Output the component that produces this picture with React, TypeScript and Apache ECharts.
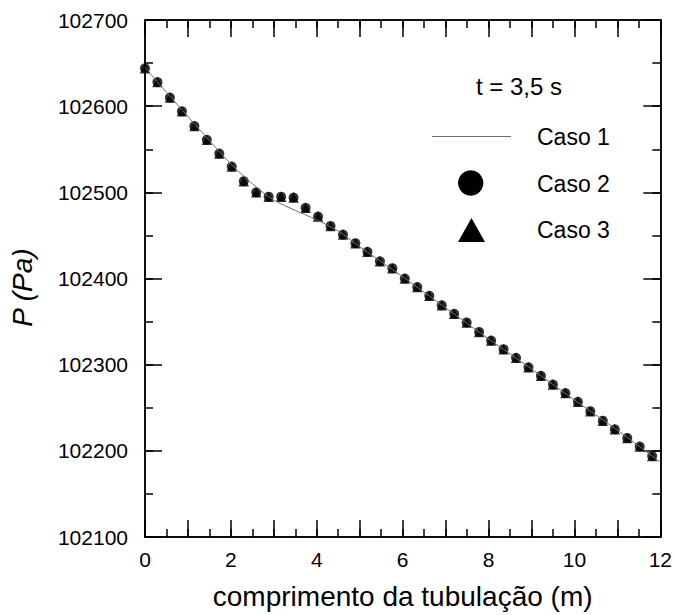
import React, { useEffect, useRef } from "react";
import * as echarts from "echarts";

const xPts = [0, 0.29, 0.58, 0.86, 1.15, 1.44, 1.73, 2.02, 2.3, 2.59, 2.88, 3.17, 3.46, 3.74, 4.03, 4.32, 4.61, 4.9, 5.18, 5.47, 5.76, 6.05, 6.34, 6.62, 6.91, 7.2, 7.49, 7.78, 8.06, 8.35, 8.64, 8.93, 9.22, 9.5, 9.79, 10.08, 10.37, 10.66, 10.94, 11.23, 11.52, 11.81];
const caso2P = [102644, 102628, 102610, 102594, 102577, 102561, 102545, 102530, 102513, 102500, 102495, 102495, 102494, 102482, 102472, 102461, 102451, 102441, 102431, 102420, 102412, 102400, 102390, 102380, 102369, 102359, 102349, 102338, 102328, 102318, 102308, 102297, 102287, 102277, 102267, 102257, 102246, 102235, 102225, 102215, 102205, 102194];
const caso3P = [102644, 102628, 102610, 102594, 102577, 102561, 102545, 102530, 102513, 102500, 102495, 102495, 102494, 102482, 102472, 102461, 102451, 102441, 102431, 102420, 102412, 102400, 102390, 102380, 102369, 102359, 102349, 102338, 102328, 102318, 102308, 102297, 102287, 102277, 102267, 102257, 102246, 102235, 102225, 102215, 102205, 102194];
const caso1X = [0, 0.5, 1, 1.5, 2, 2.5, 3, 3.5, 4, 4.5, 5, 6, 7, 8, 9, 10, 11, 12];
const caso1P = [102645, 102616, 102588, 102560, 102533, 102510, 102491, 102479, 102468, 102455, 102437, 102402, 102366, 102330, 102295, 102259, 102224, 102187];
const seriesNames = ["Caso 1", "Caso 2", "Caso 3"];
const annotation = "t = 3,5 s";
const xTitle = "comprimento da tubulação (m)";
const yTitle = "P (Pa)";

const FONT = "'Liberation Sans', Arial, sans-serif";
const LINE_COLOR = "#6e6e6e";
const TICK_COLOR = "#000";

export default function App() {
  const ref = useRef<HTMLDivElement>(null);
  useEffect(() => {
    document.body.style.margin = "0";
    if (!ref.current) return;
    const chart = echarts.init(ref.current, null, { renderer: "svg" });
    const mkAxis = (kind: "x" | "y", position: string, major: boolean) => ({
      type: "value",
      position,
      min: kind === "x" ? 0 : 102100,
      max: kind === "x" ? 12 : 102700,
      interval: kind === "x" ? (major ? 1 : 0.5) : major ? 100 : 50,
      axisLine: { show: true, onZero: false, lineStyle: { color: "#000", width: 1.5 } },
      axisTick: {
        show: true,
        inside: true,
        length: major ? 17 : 8,
        lineStyle: { color: TICK_COLOR, width: 1.5 },
      },
      axisLabel: { show: false },
      splitLine: { show: false },
    });
    const legendText = (text: string, y: number) => ({
      type: "text",
      x: 537,
      y,
      silent: true,
      style: { text, fontSize: 23, fill: "#000", fontFamily: FONT, align: "left", verticalAlign: "middle" },
    });
    chart.setOption({
      animation: false,
      textStyle: { fontFamily: FONT },
      grid: { left: 145, right: 14, top: 20, bottom: 75 },
      xAxis: [
        {
          ...mkAxis("x", "bottom", true),
          name: xTitle,
          nameLocation: "middle",
          nameGap: 45,
          nameTextStyle: { fontSize: 28, color: "#000", fontFamily: FONT },
          axisLabel: {
            show: true,
            color: "#000",
            fontSize: 21,
            margin: 12,
            fontFamily: FONT,
            formatter: (v: number) => (v % 2 === 0 ? String(v) : ""),
          },
        },
        mkAxis("x", "bottom", false),
        mkAxis("x", "top", true),
        mkAxis("x", "top", false),
      ],
      yAxis: [
        {
          ...mkAxis("y", "left", true),
          name: yTitle,
          nameLocation: "middle",
          nameGap: 109,
          nameTextStyle: { fontSize: 28, color: "#000", fontStyle: "italic", fontFamily: FONT, padding: [0, 18, 0, 0] },
          axisLabel: {
            show: true,
            color: "#000",
            fontSize: 21,
            margin: 17,
            fontFamily: FONT,
            formatter: (v: number) => String(v),
          },
        },
        mkAxis("y", "left", false),
        mkAxis("y", "right", true),
        mkAxis("y", "right", false),
      ],
      graphic: [
        {
          type: "text",
          x: 476,
          y: 86,
          silent: true,
          style: { text: annotation, fontSize: 24, fill: "#000", fontFamily: FONT, align: "left", verticalAlign: "middle" },
        },
        {
          type: "line",
          silent: true,
          shape: { x1: 432, y1: 136.5, x2: 511, y2: 136.5 },
          style: { stroke: LINE_COLOR, lineWidth: 1 },
        },
        legendText(seriesNames[0], 136.5),
        {
          type: "circle",
          silent: true,
          shape: { cx: 470.7, cy: 183, r: 12.7 },
          style: { fill: "#000" },
        },
        legendText(seriesNames[1], 183.5),
        {
          type: "polygon",
          silent: true,
          shape: { points: [[458, 242], [485, 242], [471.5, 218]] },
          style: { fill: "#000" },
        },
        legendText(seriesNames[2], 229.5),
      ],
      series: [
        {
          name: seriesNames[1],
          type: "scatter",
          symbol: "circle",
          symbolSize: 10,
          itemStyle: { color: "#000" },
          data: xPts.map((x, i) => [x, caso2P[i]]),
          z: 2,
        },
        {
          name: seriesNames[2],
          type: "scatter",
          symbol: "triangle",
          symbolSize: 10.5,
          itemStyle: { color: "#000" },
          data: xPts.map((x, i) => [x, caso3P[i]]),
          z: 2,
        },
        {
          name: seriesNames[0],
          type: "line",
          symbol: "none",
          smooth: 0.3,
          lineStyle: { color: LINE_COLOR, width: 1 },
          itemStyle: { color: LINE_COLOR },
          data: caso1X.map((x, i) => [x, caso1P[i]]),
          z: 3,
        },
      ],
    });
    return () => chart.dispose();
  }, []);
  return <div ref={ref} style={{ width: 675, height: 615 }} />;
}
